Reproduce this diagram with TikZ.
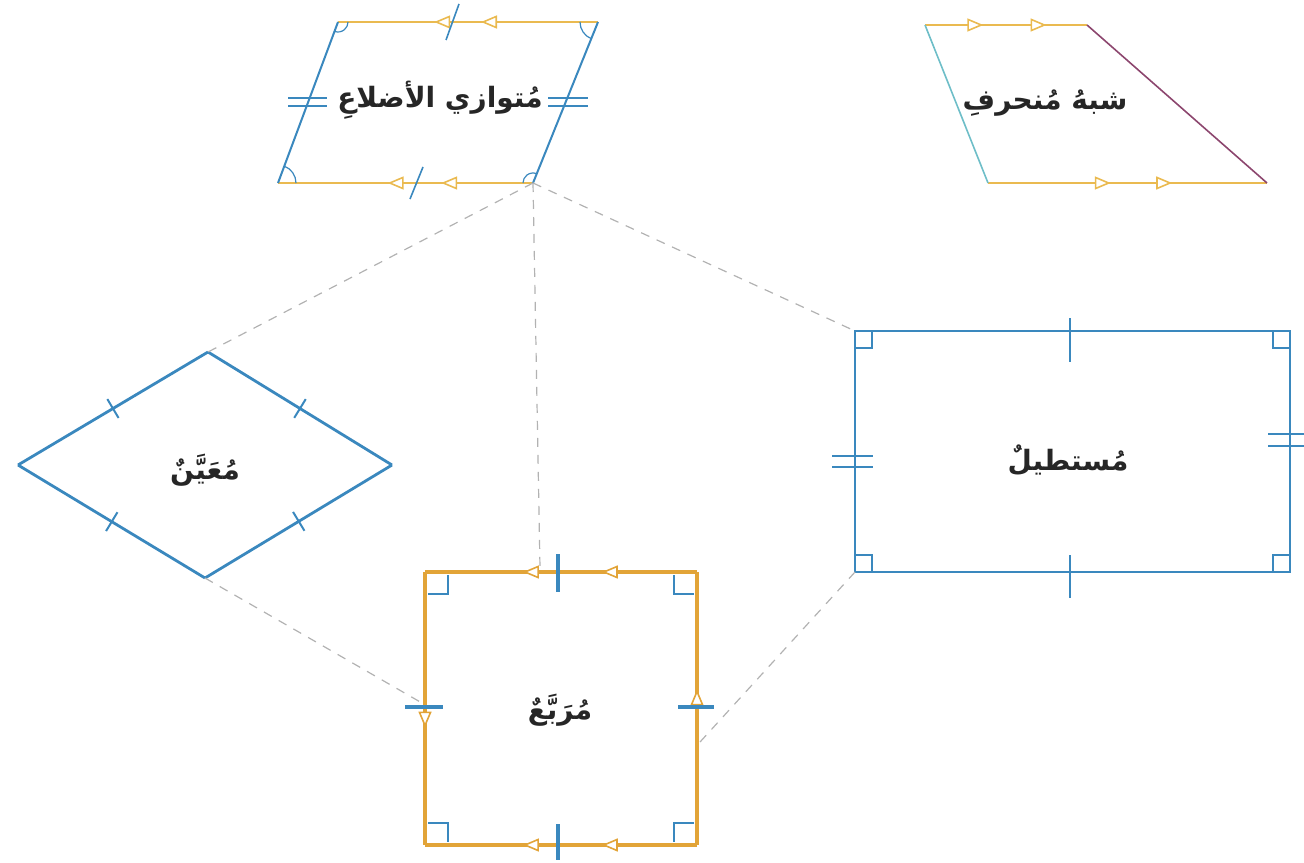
\documentclass[tikz,border=0pt]{standalone}
\usepackage{fontspec}
\newfontfamily\arabicfont[Script=Arabic]{DejaVu Sans}
\TeXXeTstate=1
\usepackage{tikz}
\usetikzlibrary{calc,angles,decorations.markings,arrows.meta}
\definecolor{gold}{RGB}{234,186,80}
\definecolor{sqgold}{RGB}{226,164,56}
\definecolor{shapeblue}{RGB}{58,136,190}
\definecolor{legteal}{RGB}{110,190,200}
\definecolor{legpurple}{RGB}{140,70,110}
\tikzset{
	tri/.style={postaction={decorate,decoration={markings,mark=at position #1 with {\arrow{Triangle[fill=white,length=8pt,width=6.5pt,line width=0.8pt]}}}}},
	tick/.style={postaction={decorate,decoration={markings,mark=at position 0.5 with {\draw[line width=1pt] (0,-#1) -- (0,#1);}}}},
	link/.style={gray!60,line width=0.6pt,dash pattern=on 4.5pt off 4pt},
	shapename/.style={font=\arabicfont\bfseries\fontsize{14}{16}\selectfont,text=black!85}
}
\begin{document}
\begin{tikzpicture}[x=0.5pt,y=-0.5pt]
					\useasboundingbox (0,0) rectangle (1304,862);
					%PARALLELOGRAM
					\coordinate (PTL) at (338,22);
					\coordinate (PTR) at (598,22);
					\coordinate (PBR) at (533,183);
					\coordinate (PBL) at (278,183);
					\draw[gold,line width=1pt,tri=0.45,tri=0.63] (PTR) -- (PTL);
					\draw[gold,line width=1pt,tri=0.36,tri=0.57] (PBR) -- (PBL);
					\draw[shapeblue,line width=1pt] (PTL) -- (PBL) (PTR) -- (PBR);
					\draw[shapeblue,line width=0.8pt] (446,40) -- (459,4) (410,199) -- (423,167);
					\draw[shapeblue,line width=0.8pt] (288,98) -- (327,98) (288,106) -- (327,106);
					\draw[shapeblue,line width=0.8pt] (548,98) -- (588,98) (548,106) -- (588,106);
					\pic[draw=shapeblue,line width=0.6pt,angle radius=5pt] {angle=PBL--PTL--PTR};
					\pic[draw=shapeblue,line width=0.6pt,angle radius=9pt] {angle=PTL--PTR--PBR};
					\pic[draw=shapeblue,line width=0.6pt,angle radius=5pt] {angle=PTR--PBR--PBL};
					\pic[draw=shapeblue,line width=0.6pt,angle radius=9pt] {angle=PBR--PBL--PTL};
					\node[shapename] (partext) at (440,100) {\beginR مُتوازي الأضلاعِ\endR};
					%TRAPEZOID
					\coordinate (TTL) at (925,25);
					\coordinate (TTR) at (1087,25);
					\coordinate (TBR) at (1267,183);
					\coordinate (TBL) at (988,183);
					\draw[gold,line width=1pt,tri=0.36,tri=0.75] (TTL) -- (TTR);
					\draw[gold,line width=1pt,tri=0.44,tri=0.66] (TBL) -- (TBR);
					\draw[legteal,line width=0.8pt] (TTL) -- (TBL);
					\draw[legpurple,line width=0.8pt] (TTR) -- (TBR);
					\node[shapename] (traptext) at (1045,103) {\beginR شبهُ مُنحرفِ\endR};
					%RHOMBUS
					\coordinate (RhL) at (18,465);
					\coordinate (RhT) at (208,352);
					\coordinate (RhR) at (392,465);
					\coordinate (RhB) at (205,578);
					\draw[shapeblue,line width=1.4pt,tick=5.5pt] (RhL) -- (RhT);
					\draw[shapeblue,line width=1.4pt,tick=5.5pt] (RhT) -- (RhR);
					\draw[shapeblue,line width=1.4pt,tick=5.5pt] (RhR) -- (RhB);
					\draw[shapeblue,line width=1.4pt,tick=5.5pt] (RhB) -- (RhL);
					\node[shapename] (rhtext) at (205,470) {\beginR مُعَيَّنٌ\endR};
					%RECTANGLE
					\coordinate (RTL) at (855,331);
					\coordinate (RTR) at (1290,331);
					\coordinate (RBR) at (1290,572);
					\coordinate (RBL) at (855,572);
					\draw[shapeblue,line width=1.2pt] (RTL) rectangle (RBR);
					\draw[shapeblue,line width=0.9pt] (RTL) ++(0,17) -| ++(17,-17);
					\draw[shapeblue,line width=0.9pt] (RTR) ++(0,17) -| ++(-17,-17);
					\draw[shapeblue,line width=0.9pt] (RBL) ++(0,-17) -| ++(17,17);
					\draw[shapeblue,line width=0.9pt] (RBR) ++(0,-17) -| ++(-17,17);
					\draw[shapeblue,line width=1pt] (1070,318) -- (1070,362) (1070,555) -- (1070,598);
					\draw[shapeblue,line width=1pt] (832,456) -- (873,456) (832,467) -- (873,467);
					\draw[shapeblue,line width=1pt] (1268,434) -- (1304,434) (1268,446) -- (1304,446);
					\node[shapename] (recttext) at (1068,460) {\beginR مُستطيلٌ\endR};
					%SQUARE
					\coordinate (STL) at (425,572);
					\coordinate (STR) at (697,572);
					\coordinate (SBR) at (697,845);
					\coordinate (SBL) at (425,845);
					\draw[sqgold,line width=1.8pt,tri=0.35,tri=0.64] (STR) -- (STL);
					\draw[sqgold,line width=1.8pt,tri=0.35,tri=0.64] (SBR) -- (SBL);
					\draw[sqgold,line width=1.8pt,tri=0.57] (STL) -- (SBL);
					\draw[sqgold,line width=1.8pt,tri=0.57] (SBR) -- (STR);
					\draw[shapeblue,line width=1.2pt] (STL) ++(3,22) -| ++(20,-19);
					\draw[shapeblue,line width=1.2pt] (STR) ++(-3,22) -| ++(-20,-19);
					\draw[shapeblue,line width=1.2pt] (SBL) ++(3,-22) -| ++(20,19);
					\draw[shapeblue,line width=1.2pt] (SBR) ++(-3,-22) -| ++(-20,19);
					\draw[shapeblue,line width=1.6pt] (558,554) -- (558,592) (558,824) -- (558,860);
					\draw[shapeblue,line width=1.6pt] (405,707) -- (443,707) (678,707) -- (714,707);
					\node[shapename] (sqtext) at (560,710) {\beginR مُرَبَّعٌ\endR};
					%LINKS
					\coordinate (SqTop) at (540,568);
					\coordinate (SqL) at (422,703);
					\coordinate (SqR) at (700,742);
					\draw[link] (PBR) -- (RhT);
					\draw[link] (PBR) -- (SqTop);
					\draw[link] (PBR) -- (RTL);
					\draw[link] (RhB) -- (SqL);
					\draw[link] (RBL) -- (SqR);
\end{tikzpicture}
\end{document}
